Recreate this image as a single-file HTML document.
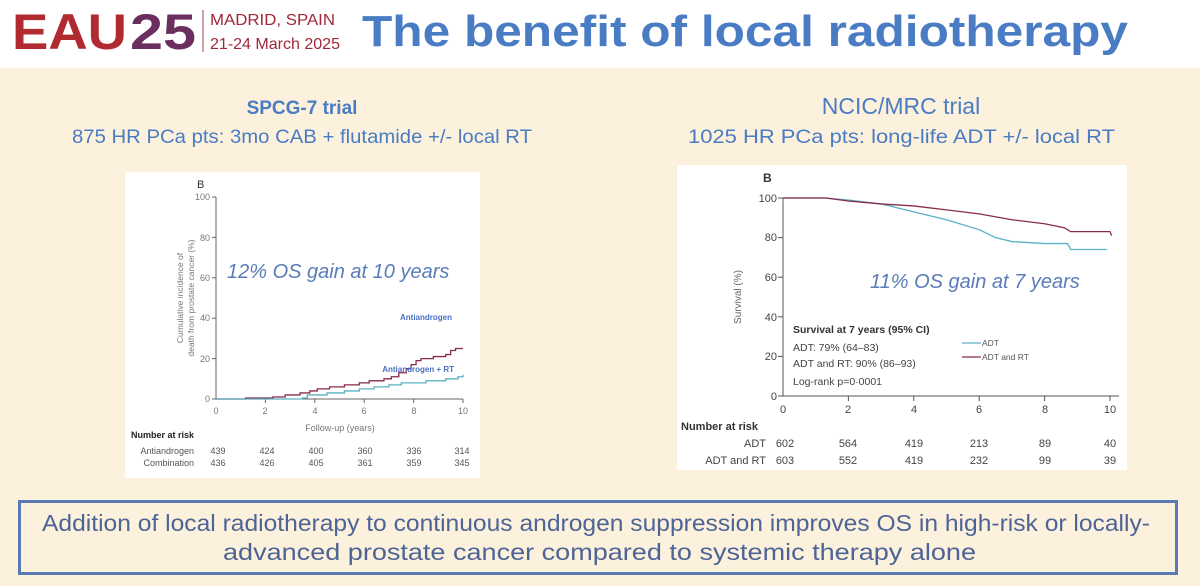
<!DOCTYPE html>
<html><head><meta charset="utf-8"><style>
body{margin:0;width:1200px;height:586px;overflow:hidden;background:#fcf1dc;font-family:"Liberation Sans",sans-serif}
</style></head><body>
<svg width="1200" height="586" xmlns="http://www.w3.org/2000/svg" style="position:absolute;left:0;top:0">
<rect x="0" y="0" width="1200" height="68" fill="#fff"/>
<rect x="0" y="68" width="1200" height="518" fill="#fcf1dc"/>
<text x="12" y="49" font-size="50" font-weight="bold" fill="#b02a30" textLength="115" lengthAdjust="spacingAndGlyphs">EAU</text>
<text x="130" y="49" font-size="50" font-weight="bold" fill="#6a2f5e" textLength="66" lengthAdjust="spacingAndGlyphs">25</text>
<line x1="203" y1="10" x2="203" y2="52" stroke="#a04050" stroke-width="1"/>
<text x="210" y="25" font-size="16" fill="#a0283a" textLength="125" lengthAdjust="spacingAndGlyphs">MADRID, SPAIN</text>
<text x="210" y="49" font-size="16" fill="#a0283a" textLength="130" lengthAdjust="spacingAndGlyphs">21-24 March 2025</text>
<text x="362" y="46" font-size="44" font-weight="bold" fill="#4a7cc4" textLength="766" lengthAdjust="spacingAndGlyphs">The benefit of local radiotherapy</text>

<text x="302" y="114" font-size="19" font-weight="bold" fill="#4a7cc4" text-anchor="middle">SPCG-7 trial</text>
<text x="72" y="143" font-size="19" fill="#4a7cc4" textLength="460" lengthAdjust="spacingAndGlyphs">875 HR PCa pts: 3mo CAB + flutamide +/- local RT</text>
<text x="901" y="114" font-size="23" fill="#4a7cc4" text-anchor="middle">NCIC/MRC trial</text>
<text x="688" y="143" font-size="19" fill="#4a7cc4" textLength="427" lengthAdjust="spacingAndGlyphs">1025 HR PCa pts: long-life ADT +/- local RT</text>

<!-- left chart -->
<rect x="125" y="172" width="355" height="306" fill="#fff"/>
<text x="197" y="188" font-size="11" fill="#333">B</text>
<g stroke="#666" stroke-width="1" fill="none">
<line x1="216" y1="197" x2="216" y2="399"/><line x1="216" y1="399" x2="463" y2="399"/>
<line x1="212" y1="197" x2="216" y2="197"/><line x1="212" y1="237.4" x2="216" y2="237.4"/><line x1="212" y1="277.8" x2="216" y2="277.8"/><line x1="212" y1="318.2" x2="216" y2="318.2"/><line x1="212" y1="358.6" x2="216" y2="358.6"/><line x1="212" y1="399" x2="216" y2="399"/>
<line x1="265.4" y1="399" x2="265.4" y2="403"/><line x1="314.8" y1="399" x2="314.8" y2="403"/><line x1="364.2" y1="399" x2="364.2" y2="403"/><line x1="413.6" y1="399" x2="413.6" y2="403"/><line x1="463" y1="399" x2="463" y2="403"/>
</g>
<g font-size="9" fill="#777" text-anchor="end">
<text x="210" y="200">100</text><text x="210" y="241">80</text><text x="210" y="281">60</text><text x="210" y="321">40</text><text x="210" y="362">20</text><text x="210" y="402">0</text></g>
<g font-size="9" fill="#777" text-anchor="middle">
<text x="216" y="414">0</text><text x="265" y="414">2</text><text x="315" y="414">4</text><text x="364" y="414">6</text><text x="414" y="414">8</text><text x="463" y="414">10</text>
<text x="340" y="431">Follow-up (years)</text></g>
<text transform="translate(183,298) rotate(-90)" font-size="8.5" fill="#777" text-anchor="middle">Cumulative incidence of</text>
<text transform="translate(194,298) rotate(-90)" font-size="8.5" fill="#777" text-anchor="middle">death from prostate cancer (%)</text>
<g transform="translate(216,399) scale(24.7,-2.02)" fill="none">
<polyline vector-effect="non-scaling-stroke" stroke="#8a2a4a" stroke-width="1.3" points="0,0 1.2,0 1.2,0.5 2.3,0.5 2.3,1 2.8,1 2.8,2 3.4,2 3.4,3 3.8,3 3.8,4 4.1,4 4.1,5 4.6,5 4.6,6 5.2,6 5.2,7 5.8,7 5.8,8 6.2,8 6.2,9 6.8,9 6.8,10 7.1,10 7.1,11 7.4,11 7.4,13 7.7,13 7.7,15 7.9,15 7.9,17 8.1,17 8.1,19 8.3,19 8.3,20 8.8,20 8.8,21 9.3,21 9.3,22 9.5,22 9.5,24 9.7,24 9.7,25 10,25"/>
<polyline vector-effect="non-scaling-stroke" stroke="#5ab0c0" stroke-width="1.3" points="0,0 3.5,0 3.5,0.5 3.7,0.5 3.7,2 4.5,2 4.5,3 5.2,3 5.2,4 5.8,4 5.8,5 6.4,5 6.4,6 7,6 7,7 7.5,7 7.5,8 8.5,8 8.5,9 9.3,9 9.3,10 9.8,10 9.8,11 10,11 10,12"/>
</g>
<text x="227" y="278" font-size="20" font-style="italic" fill="#5a7cb8">12% OS gain at 10 years</text>
<text x="452" y="320" font-size="8" font-weight="bold" fill="#4a6cc0" text-anchor="end">Antiandrogen</text>
<text x="454" y="372" font-size="8" font-weight="bold" fill="#4a6cc0" text-anchor="end">Antiandrogen + RT</text>
<text x="131" y="438" font-size="9" font-weight="bold" fill="#222">Number at risk</text>
<g font-size="9" fill="#555" text-anchor="end"><text x="194" y="454">Antiandrogen</text><text x="194" y="466">Combination</text></g>
<g font-size="9" fill="#555" text-anchor="middle">
<text x="218" y="454">439</text><text x="267" y="454">424</text><text x="316" y="454">400</text><text x="365" y="454">360</text><text x="414" y="454">336</text><text x="462" y="454">314</text>
<text x="218" y="466">436</text><text x="267" y="466">426</text><text x="316" y="466">405</text><text x="365" y="466">361</text><text x="414" y="466">359</text><text x="462" y="466">345</text></g>

<!-- right chart -->
<rect x="677" y="165" width="450" height="305" fill="#fff"/>
<text x="763" y="182" font-size="12" font-weight="bold" fill="#333">B</text>
<g stroke="#555" stroke-width="1" fill="none">
<line x1="783" y1="198" x2="783" y2="396"/><line x1="783" y1="396" x2="1119" y2="396"/>
<line x1="778" y1="198" x2="783" y2="198"/><line x1="778" y1="237.6" x2="783" y2="237.6"/><line x1="778" y1="277.2" x2="783" y2="277.2"/><line x1="778" y1="316.8" x2="783" y2="316.8"/><line x1="778" y1="356.4" x2="783" y2="356.4"/><line x1="778" y1="396" x2="783" y2="396"/>
<line x1="848.4" y1="396" x2="848.4" y2="401"/><line x1="913.8" y1="396" x2="913.8" y2="401"/><line x1="979.2" y1="396" x2="979.2" y2="401"/><line x1="1044.6" y1="396" x2="1044.6" y2="401"/><line x1="1110" y1="396" x2="1110" y2="401"/>
</g>
<g font-size="11" fill="#444" text-anchor="end">
<text x="777" y="202">100</text><text x="777" y="241">80</text><text x="777" y="281">60</text><text x="777" y="321">40</text><text x="777" y="360">20</text><text x="777" y="400">0</text></g>
<g font-size="11" fill="#444" text-anchor="middle">
<text x="783" y="413">0</text><text x="848" y="413">2</text><text x="914" y="413">4</text><text x="979" y="413">6</text><text x="1045" y="413">8</text><text x="1110" y="413">10</text></g>
<text transform="translate(741,297) rotate(-90)" font-size="10" fill="#666" text-anchor="middle">Survival (%)</text>
<g transform="translate(783,396) scale(32.7,-1.98)" fill="none">
<polyline vector-effect="non-scaling-stroke" stroke="#5ab0c8" stroke-width="1.3" points="0,100 1.3,100 2,99 3,97 4,93 5,89 6,84 6.5,80 7,78 8,77 8.7,77 8.8,74 9.9,74"/>
<polyline vector-effect="non-scaling-stroke" stroke="#8a2a4a" stroke-width="1.3" points="0,100 1.3,100 2,98.5 3,97 4,96 5,94 6,92 7,89 8,87 8.6,85 8.8,83 10,83 10.05,81"/>
</g>
<text x="870" y="288" font-size="20" font-style="italic" fill="#5a7cb8">11% OS gain at 7 years</text>
<text x="793" y="333" font-size="10.5" font-weight="bold" fill="#333">Survival at 7 years (95% CI)</text>
<g font-size="10.5" fill="#444"><text x="793" y="351">ADT: 79% (64–83)</text><text x="793" y="367">ADT and RT: 90% (86–93)</text><text x="793" y="385">Log-rank p=0·0001</text></g>
<line x1="962" y1="343" x2="981" y2="343" stroke="#5ab0c8" stroke-width="1.2"/>
<line x1="962" y1="357" x2="981" y2="357" stroke="#8a2a4a" stroke-width="1.2"/>
<g font-size="8.5" fill="#555"><text x="982" y="346">ADT</text><text x="982" y="360">ADT and RT</text></g>
<text x="681" y="430" font-size="11" font-weight="bold" fill="#333">Number at risk</text>
<g font-size="11" fill="#444" text-anchor="end"><text x="766" y="447">ADT</text><text x="766" y="464">ADT and RT</text></g>
<g font-size="11" fill="#444" text-anchor="middle">
<text x="785" y="447">602</text><text x="848" y="447">564</text><text x="914" y="447">419</text><text x="979" y="447">213</text><text x="1045" y="447">89</text><text x="1110" y="447">40</text>
<text x="785" y="464">603</text><text x="848" y="464">552</text><text x="914" y="464">419</text><text x="979" y="464">232</text><text x="1045" y="464">99</text><text x="1110" y="464">39</text></g>

<!-- bottom box -->
<rect x="19.5" y="501.5" width="1157" height="72" fill="none" stroke="#5a7ab4" stroke-width="3"/>
<text x="42" y="531" font-size="23" fill="#4d6496" textLength="1108" lengthAdjust="spacingAndGlyphs">Addition of local radiotherapy to continuous androgen suppression improves OS in high-risk or locally-</text>
<text x="223" y="560" font-size="23" fill="#4d6496" textLength="753" lengthAdjust="spacingAndGlyphs">advanced prostate cancer compared to systemic therapy alone</text>
</svg>
</body></html>
